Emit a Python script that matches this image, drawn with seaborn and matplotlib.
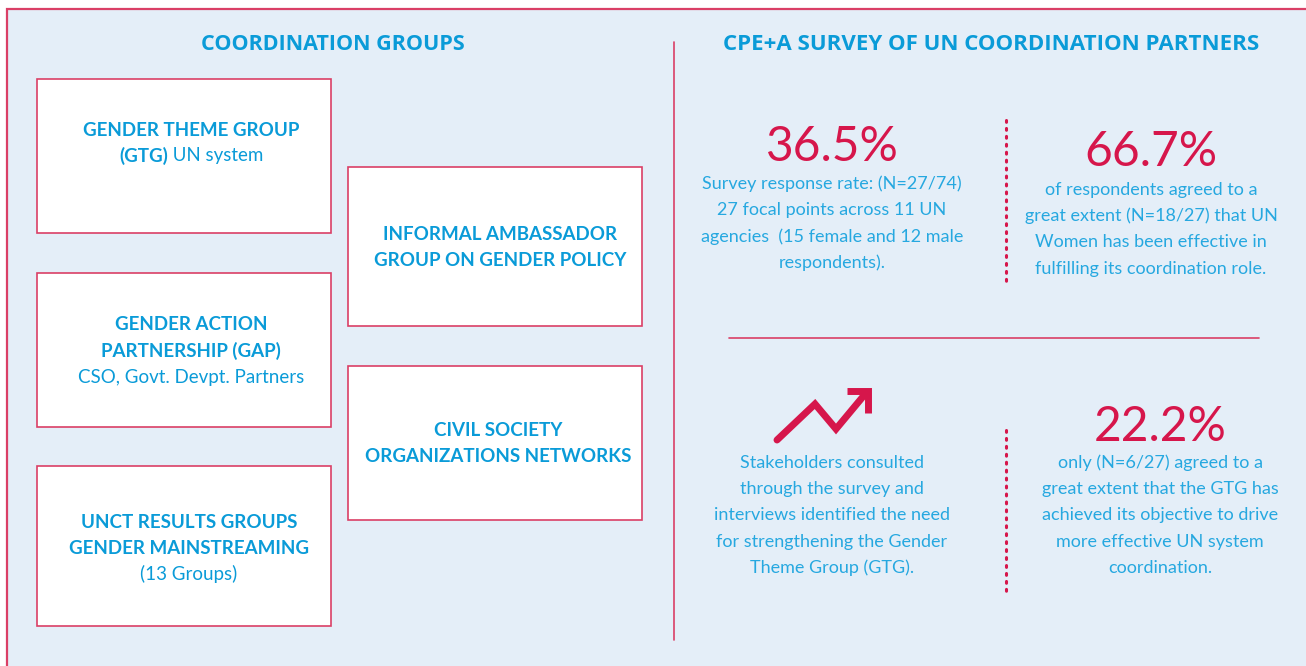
import numpy as np
import seaborn as sns
import matplotlib as mpl
import matplotlib.pyplot as plt

# ---- content ----
left_header = "COORDINATION GROUPS"
right_header = "CPE+A SURVEY OF UN COORDINATION PARTNERS"

# coordination group boxes: list of lines, each line a list of (text, bold?)
group_boxes = [
    [[("GENDER THEME GROUP", True)], [("(GTG)", True), (" UN system", False)]],
    [[("INFORMAL AMBASSADOR", True)], [("GROUP ON GENDER POLICY", True)]],
    [[("GENDER ACTION", True)], [("PARTNERSHIP (GAP)", True)], [("CSO, Govt. Devpt. Partners", False)]],
    [[("CIVIL SOCIETY", True)], [("ORGANIZATIONS NETWORKS", True)]],
    [[("UNCT RESULTS GROUPS", True)], [("GENDER MAINSTREAMING", True)], [("(13 Groups)", False)]],
]

stat_values = ["36.5%", "66.7%", None, "22.2%"]
stat_texts = [
    ["Survey response rate: (N=27/74)", "27 focal points across 11 UN",
     "agencies  (15 female and 12 male", "respondents)."],
    ["of respondents agreed to a", "great extent (N=18/27) that UN",
     "Women has been effective in", "fulfilling its coordination role."],
    ["Stakeholders consulted", "through the survey and", "interviews identified the need",
     "for strengthening the Gender", "Theme Group (GTG)."],
    ["only (N=6/27) agreed to a", "great extent that the GTG has",
     "achieved its objective to drive", "more effective UN system", "coordination."],
]

# ---- layout (pixel coordinates) ----
box_rects = [(37, 79, 294, 154), (348, 167, 294, 159), (37, 273, 294, 154),
             (348, 366, 294, 154), (37, 466, 294, 160)]
box_centers = [191, 500, 191, 498, 189]
box_first_line = [130, 235, 325, 431, 522]
stat_centers = [(832, 147), (1151, 152), (832, None), (1160, 427)]
stat_text_top = [184, 190, 463, 463]

BLUE = "#0A9BD8"
LIGHT_BLUE = "#26A8E0"
RED = "#D6164B"
BG = "#E4EEF8"
EDGE = "#DA3F66"

sns.set_theme(style="white")
mpl.rcParams['font.family'] = ['Lato', 'DejaVu Sans']

fig = plt.figure(figsize=(13.06, 6.66), dpi=100)
ax = fig.add_axes([0, 0, 1, 1])
ax.set_xlim(0, 1306)
ax.set_ylim(666, 0)
ax.axis('off')

# panel
ax.add_patch(plt.Rectangle((7, 9), 1320, 680, facecolor=BG, edgecolor=EDGE, linewidth=1.6))

for cx, s, fs in [(333, left_header, 15.5), (991, right_header, 16)]:
    ax.text(cx, 45, s, ha='center', va='center', fontsize=fs, weight='bold',
            color=BLUE, family=['Open Sans', 'DejaVu Sans'])

# separators
ax.plot([674, 674], [42, 640], color=EDGE, lw=1.2)
ax.plot([729, 1259], [338, 338], color=EDGE, lw=1.2)
for y0, y1 in [(120, 283), (430, 595)]:
    ax.plot([1006, 1006], [y0, y1], color=RED, lw=2.2, linestyle=(0, (0.6, 2.0)),
            dash_capstyle='round')

fig.canvas.draw()
renderer = fig.canvas.get_renderer()


def mixed_line(x_center, y, parts, size, color):
    texts = []
    for s, bold in parts:
        t = ax.text(0, y, s, ha='left', va='center', fontsize=size,
                    weight='bold' if bold else 'normal', color=color)
        texts.append(t)
    widths = [t.get_window_extent(renderer).width for t in texts]
    x = x_center - sum(widths) / 2
    for t, w in zip(texts, widths):
        t.set_x(x)
        x += w


# group boxes
for rect, lines, cx, y0 in zip(box_rects, group_boxes, box_centers, box_first_line):
    x, y, w, h = rect
    ax.add_patch(plt.Rectangle((x, y), w, h, facecolor='white', edgecolor=EDGE, linewidth=1.2))
    for i, parts in enumerate(lines):
        mixed_line(cx, y0 + i * 26, parts, 13.5, BLUE)

# survey stats
for val, lines, (cx, cy), ty in zip(stat_values, stat_texts, stat_centers, stat_text_top):
    if val is not None:
        ax.text(cx, cy, val, ha='center', va='center', fontsize=34.5, weight='normal', color=RED)
    for i, s in enumerate(lines):
        ax.text(cx, ty + i * 26.2, s, ha='center', va='center', fontsize=13,
                weight='normal', color=LIGHT_BLUE)

# trend arrow icon
ax.plot([777, 815, 836, 866], [440, 404, 429, 393], color=RED, lw=5,
        solid_capstyle='round', solid_joinstyle='miter')
ax.plot([847, 868, 868], [391, 391, 413], color=RED, lw=5,
        solid_capstyle='butt', solid_joinstyle='miter')

fig.savefig("out.png", dpi=100)
